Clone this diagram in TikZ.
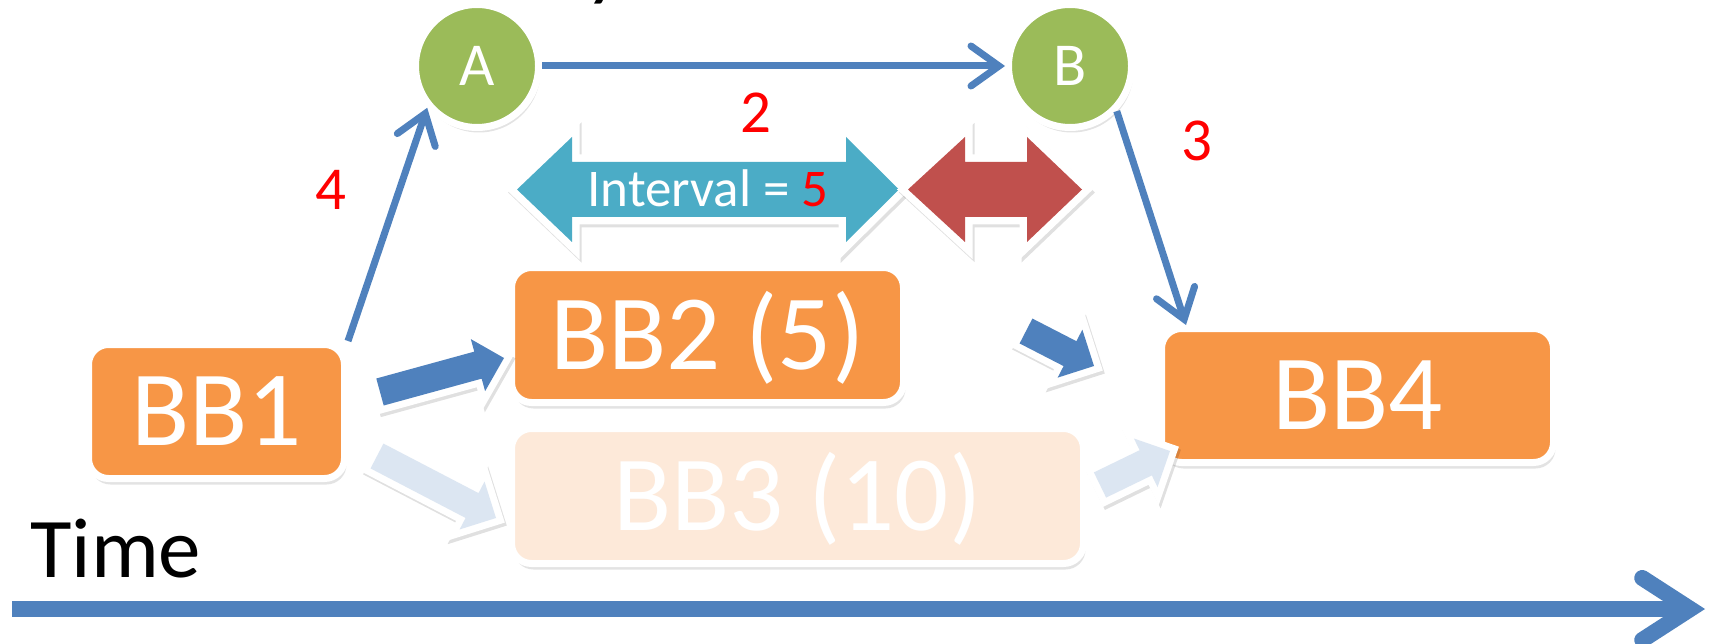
\documentclass[tikz,border=0pt]{standalone}
\usepackage{fontspec}
\setmainfont{Carlito}
\usetikzlibrary{arrows.meta,calc,shadows}
\definecolor{obl}{HTML}{4F81BD}
\definecolor{lbl}{HTML}{DCE6F2}
\definecolor{org}{HTML}{F79646}
\definecolor{lorg}{HTML}{FDE9D9}
\definecolor{grn}{HTML}{9BBB59}
\definecolor{tealc}{HTML}{4BACC6}
\definecolor{redc}{HTML}{C0504D}
\definecolor{pred}{HTML}{FF0000}
\newcommand\myblkarr[4]{%
  \coordinate (#3h) at ($(#2)!27pt!(#1)$);
  \path[blkarrow, fill=#4] ($(#1)!14pt!90:(#2)$) -- ($(#3h)!14pt!90:(#2)$) -- ($(#3h)!27pt!90:(#2)$) -- (#2)
     -- ($(#3h)!27pt!-90:(#2)$) -- ($(#3h)!14pt!-90:(#2)$) -- ($(#1)!14pt!-90:(#2)$) -- cycle;}
\begin{document}
\begin{tikzpicture}[x=1pt,y=-1pt,
  box/.style={rounded corners=20pt, draw=white, line width=7pt, inner sep=0pt, text=white,
    font=\fontsize{107}{110}\selectfont, text height=68pt, text depth=0pt,
    drop shadow={opacity=0.22, shadow xshift=2pt, shadow yshift=-6pt}},
  circ/.style={circle, fill=grn, draw=white, line width=7pt, minimum size=123pt, inner sep=0pt, text=white,
    font=\fontsize{61}{64}\selectfont, text height=39pt, text depth=0pt,
    drop shadow={opacity=0.22, shadow xshift=2pt, shadow yshift=-5pt}},
  lab/.style={text=pred, font=\fontsize{61}{64}\selectfont, inner sep=0pt, anchor=base},
  conn/.style={draw=obl, line width=7pt, -{Straight Barb[length=28pt, width=40pt, line cap=round, line join=miter]}},
  blkarrow/.style={preaction={draw=black, opacity=0.12, line width=14pt, line join=miter, transform canvas={shift={(2pt,-3pt)}}},
    preaction={draw=white, line width=14pt, line join=miter}},
  dblarrow/.style={preaction={draw=black, opacity=0.12, line width=15pt, line join=miter, transform canvas={shift={(2pt,-3pt)}}},
    preaction={draw=white, line width=15pt, line join=miter}},
]
\fill[white] (0,0) rectangle (1712,644);
\useasboundingbox (0,0) rectangle (1712,644);

% title fragment
\node[font=\fontsize{61}{64}\selectfont\bfseries\itshape, anchor=base, inner sep=0pt] (ttl) at (606,-5) {y};

% double arrows
\path[dblarrow, fill=tealc] (517,189.5) -- (572,137) -- (572,162) -- (846,162) -- (846,137) -- (899,189.5)
  -- (846,242) -- (846,217) -- (572,217) -- (572,242) -- cycle;
\path[dblarrow, fill=redc] (908,189.5) -- (965,137) -- (965,162) -- (1027,162) -- (1027,137) -- (1082,189.5)
  -- (1027,242) -- (1027,217) -- (965,217) -- (965,242) -- cycle;
\node[text=white, font=\fontsize{53}{56}\selectfont, inner sep=0pt, anchor=base] (intv) at (708,207) {Interval = \textcolor{pred}{5}};

% boxes
\node[box, fill=org, minimum width=256pt, minimum height=134pt] (BB1) at (216.5,411.5) {BB1};
\node[box, fill=org, minimum width=392pt, minimum height=135pt] (BB2) at (707.5,335) {BB2 (5)};
\node[box, fill=lorg, minimum width=572pt, minimum height=135pt] (BB3) at (797.5,496) {BB3 (10)};
\node[box, fill=org, minimum width=392pt, minimum height=134pt] (BB4) at (1357.5,395.5) {BB4};

% circles
\node[circ] (A) at (477,66) {A};
\node[circ] (B) at (1070,66) {B};

% connectors
\draw[conn] (A) -- (B);
\draw[conn] (BB1.north east) -- (A.220);
\draw[conn] (B.-44) -- ([xshift=28pt]BB4.north west);

% labels
\node[lab] (l2) at (756,133) {2};
\node[lab] (l4) at (331,210) {4};
\node[lab] (l3) at (1197,161) {3};

% block arrows
\coordinate (a1s) at (380,392); \coordinate (a1e) at (504,358);
\coordinate (a2s) at (377,456); \coordinate (a2e) at (496,518);
\coordinate (a3s) at (1026,331); \coordinate (a3e) at (1094,366);
\coordinate (a4s) at (1100,485); \coordinate (a4e) at (1170,451);
\myblkarr{a1s}{a1e}{a1}{obl}
\myblkarr{a2s}{a2e}{a2}{lbl}
\myblkarr{a3s}{a3e}{a3}{obl}
\myblkarr{a4s}{a4e}{a4}{lbl}

% time axis
\node[font=\fontsize{85}{88}\selectfont, inner sep=0pt, anchor=base west] (time) at (30,577) {Time};
\coordinate (t0) at (12,609);
\coordinate (t1) at (1705,609);
\draw[draw=obl, line width=16pt, -{Straight Barb[length=48pt, width=62pt, line cap=round, line join=miter]}] (t0) -- (t1);
\end{tikzpicture}
\end{document}
